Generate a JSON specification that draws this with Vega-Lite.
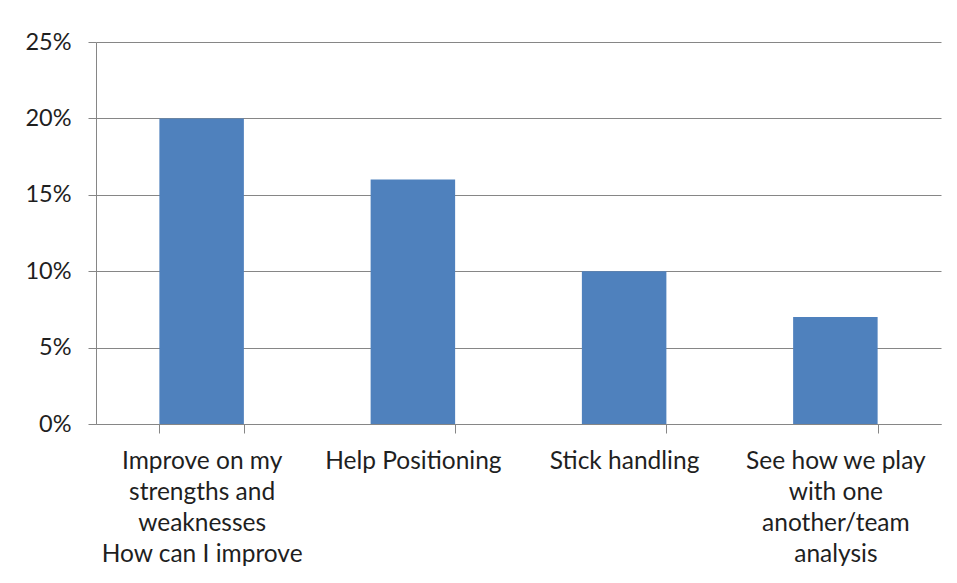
{
  "$schema": "https://vega.github.io/schema/vega-lite/v6.json",
  "width": 845,
  "height": 382,
  "autosize": {"type": "none"},
  "padding": {"left": 96, "top": 42, "right": 16, "bottom": 159},
  "background": "white",
  "data": {
    "values": [
      {"category": "Improve on my|strengths and|weaknesses|How can I improve", "share": 0.20},
      {"category": "Help Positioning", "share": 0.16},
      {"category": "Stick handling", "share": 0.10},
      {"category": "See how we play|with one|another/team|analysis", "share": 0.07}
    ]
  },
  "mark": {"type": "bar", "color": "#4F81BD"},
  "encoding": {
    "x": {
      "field": "category",
      "type": "nominal",
      "sort": null,
      "scale": {"paddingInner": 0.6, "paddingOuter": 0.3},
      "axis": {
        "title": null,
        "labelAngle": 0,
        "labelExpr": "split(datum.label, '|')",
        "labelFont": "Lato",
        "labelFontSize": 24.5,
        "labelColor": "#1f1f1f",
        "labelLineHeight": 31,
        "labelBaseline": "top",
        "labelPadding": 16,
        "labelLimit": 0,
        "tickBand": "extent",
        "tickSize": 9,
        "tickColor": "#868686",
        "domainColor": "#868686",
        "grid": false
      }
    },
    "y": {
      "field": "share",
      "type": "quantitative",
      "scale": {"domain": [0, 0.25], "nice": false},
      "axis": {
        "title": null,
        "format": ".0%",
        "values": [0, 0.05, 0.1, 0.15, 0.2, 0.25],
        "labelFont": "Lato",
        "labelFontSize": 23.5,
        "labelColor": "#1f1f1f",
        "labelPadding": 17,
        "tickSize": 8,
        "tickColor": "#868686",
        "domainColor": "#868686",
        "gridColor": "#868686",
        "grid": true
      }
    }
  },
  "config": {"view": {"stroke": null}}
}
